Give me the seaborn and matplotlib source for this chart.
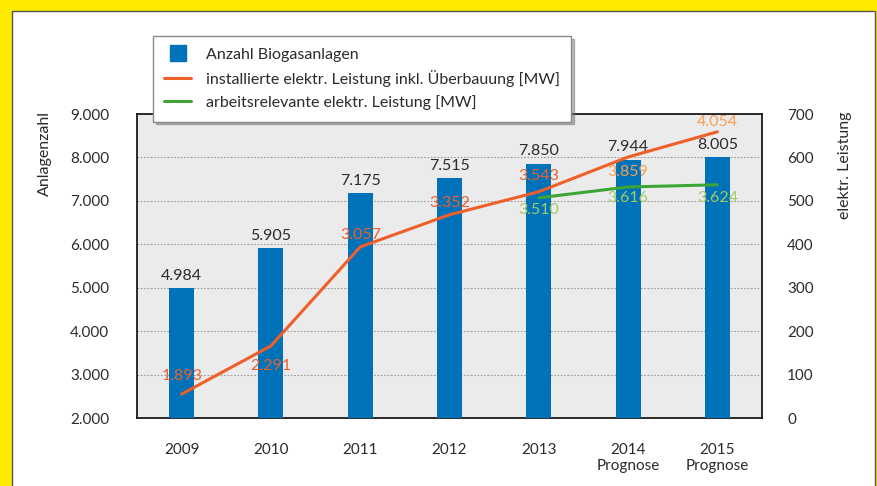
import matplotlib
matplotlib.use("Agg")
import matplotlib.pyplot as plt
from matplotlib.patches import Rectangle
from matplotlib.lines import Line2D
import numpy as np
import seaborn as sns

# Daten
years = ["2009", "2010", "2011", "2012", "2013", "2014\nPrognose", "2015\nPrognose"]
anlagen = [4984, 5905, 7175, 7515, 7850, 7944, 8005]
# Linien (rechte Achse)
leistung_inst = [55, 166, 394, 468, 521, 601, 659]
leistung_inst_lbl = [1893, 2291, 3057, 3352, 3543, 3859, 4054]
leistung_arb = [507, 532, 537]
leistung_arb_lbl = [3510, 3616, 3624]
arb_start = 4  # ab 2013

def de(v):
    return f"{v:,}".replace(",", ".")

sns.set_style("white")
plt.rcParams["font.family"] = ["Lato", "DejaVu Sans"]

BLUE = "#0072BA"
ORANGE = "#EE5F2A"
ORANGE_LIGHT = "#F5A055"
GREEN = "#3DA535"
GREEN_LIGHT = "#A2CB5E"
TXT = "#2b2b2b"

fig = plt.figure(figsize=(8.77, 4.86), dpi=100)
fig.patch.set_facecolor("#FFEB00")
fig.patches.append(Rectangle((12 / 877, -0.01), 863 / 877, 1 - 11 / 486 + 0.01,
                             transform=fig.transFigure, facecolor="white",
                             edgecolor="#555555", linewidth=1.0, zorder=-5))

ax1 = fig.add_axes([137 / 877, 1 - 418 / 486, 625 / 877, 304 / 486])
ax1.set_facecolor("#EBEBEB")
sns.barplot(x=years, y=anlagen, ax=ax1, color=BLUE, saturation=1, width=0.28,
            linewidth=0, zorder=3)
ax1.set_xlim(-0.5, len(years) - 0.5)
ax1.set_ylim(2000, 9000)
ax1.set_yticks(range(2000, 9001, 1000))
ax1.set_yticklabels([de(v) for v in range(2000, 9001, 1000)])
ax1.yaxis.grid(True, linestyle=(0, (1.5, 1.5)), color="#9a9a9a", linewidth=0.8, zorder=0)
ax1.set_axisbelow(True)
for s in ax1.spines.values():
    s.set_color("#1a1a1a")
    s.set_linewidth(1.3)
ax1.tick_params(axis="both", length=0, labelsize=11, colors=TXT)
ax1.tick_params(axis="y", pad=20)
ax1.tick_params(axis="x", pad=18)
ax1.set_xlabel("")
ax1.set_ylabel("Anlagenzahl", fontsize=11.5, color=TXT)
ax1.yaxis.set_label_coords(-0.136, 0.87)

ax1.bar_label(ax1.containers[0], labels=[de(v) for v in anlagen], padding=4,
              fontsize=11.5, color=TXT)

ax2 = ax1.twinx()
ax2.set_ylim(0, 700)
ax2.set_yticks(range(0, 701, 100))
ax2.tick_params(axis="y", length=0, labelsize=11, colors=TXT, pad=18)
for s in ax2.spines.values():
    s.set_visible(False)
ax2.set_ylabel("elektr. Leistung", fontsize=11.5, color=TXT)
ax2.yaxis.set_label_coords(1.122, 0.83)

x_all = np.arange(len(years))
x_arb = x_all[arb_start:]
sns.lineplot(x=x_all, y=leistung_inst, ax=ax2, color=ORANGE, linewidth=2.2)
sns.lineplot(x=x_arb, y=leistung_arb, ax=ax2, color=GREEN, linewidth=2.2)

# Beschriftungen (Pixelversatz zur Linie)
inst_off = [18, -20, 12, 12, 16, -15, 10]
for i, (xv, yv, lb, off) in enumerate(zip(x_all, leistung_inst, leistung_inst_lbl, inst_off)):
    col = ORANGE_LIGHT if i >= 5 else ORANGE
    ax2.annotate(de(lb), (xv, yv), xytext=(0, off), textcoords="offset pixels",
                 ha="center", va="center", fontsize=11.5, color=col)
arb_off = [-12, -11, -13]
for xv, yv, lb, off in zip(x_arb, leistung_arb, leistung_arb_lbl, arb_off):
    ax2.annotate(de(lb), (xv, yv), xytext=(0, off), textcoords="offset pixels",
                 ha="center", va="center", fontsize=11.5, color=GREEN_LIGHT)

handles = [
    Line2D([], [], color=BLUE, marker="s", markersize=12, linestyle="none"),
    Line2D([], [], color=ORANGE, linewidth=2.2),
    Line2D([], [], color=GREEN, linewidth=2.2),
]
labels = ["Anzahl Biogasanlagen",
          "installierte elektr. Leistung inkl. Überbauung [MW]",
          "arbeitsrelevante elektr. Leistung [MW]"]
leg = fig.legend(handles, labels, loc="upper left",
                 bbox_to_anchor=(153 / 877, 1 - 36 / 486), frameon=True,
                 fancybox=False, shadow={"color": "#777777", "alpha": 0.5},
                 fontsize=11.5, handlelength=1.7, handleheight=0.9,
                 labelspacing=0.5, borderpad=0.7, handletextpad=0.9,
                 borderaxespad=0)
leg.get_frame().set_edgecolor("#888888")
leg.get_frame().set_linewidth(1.0)
for t in leg.get_texts():
    t.set_color(TXT)

fig.savefig("out.png", dpi=100, facecolor=fig.get_facecolor())
